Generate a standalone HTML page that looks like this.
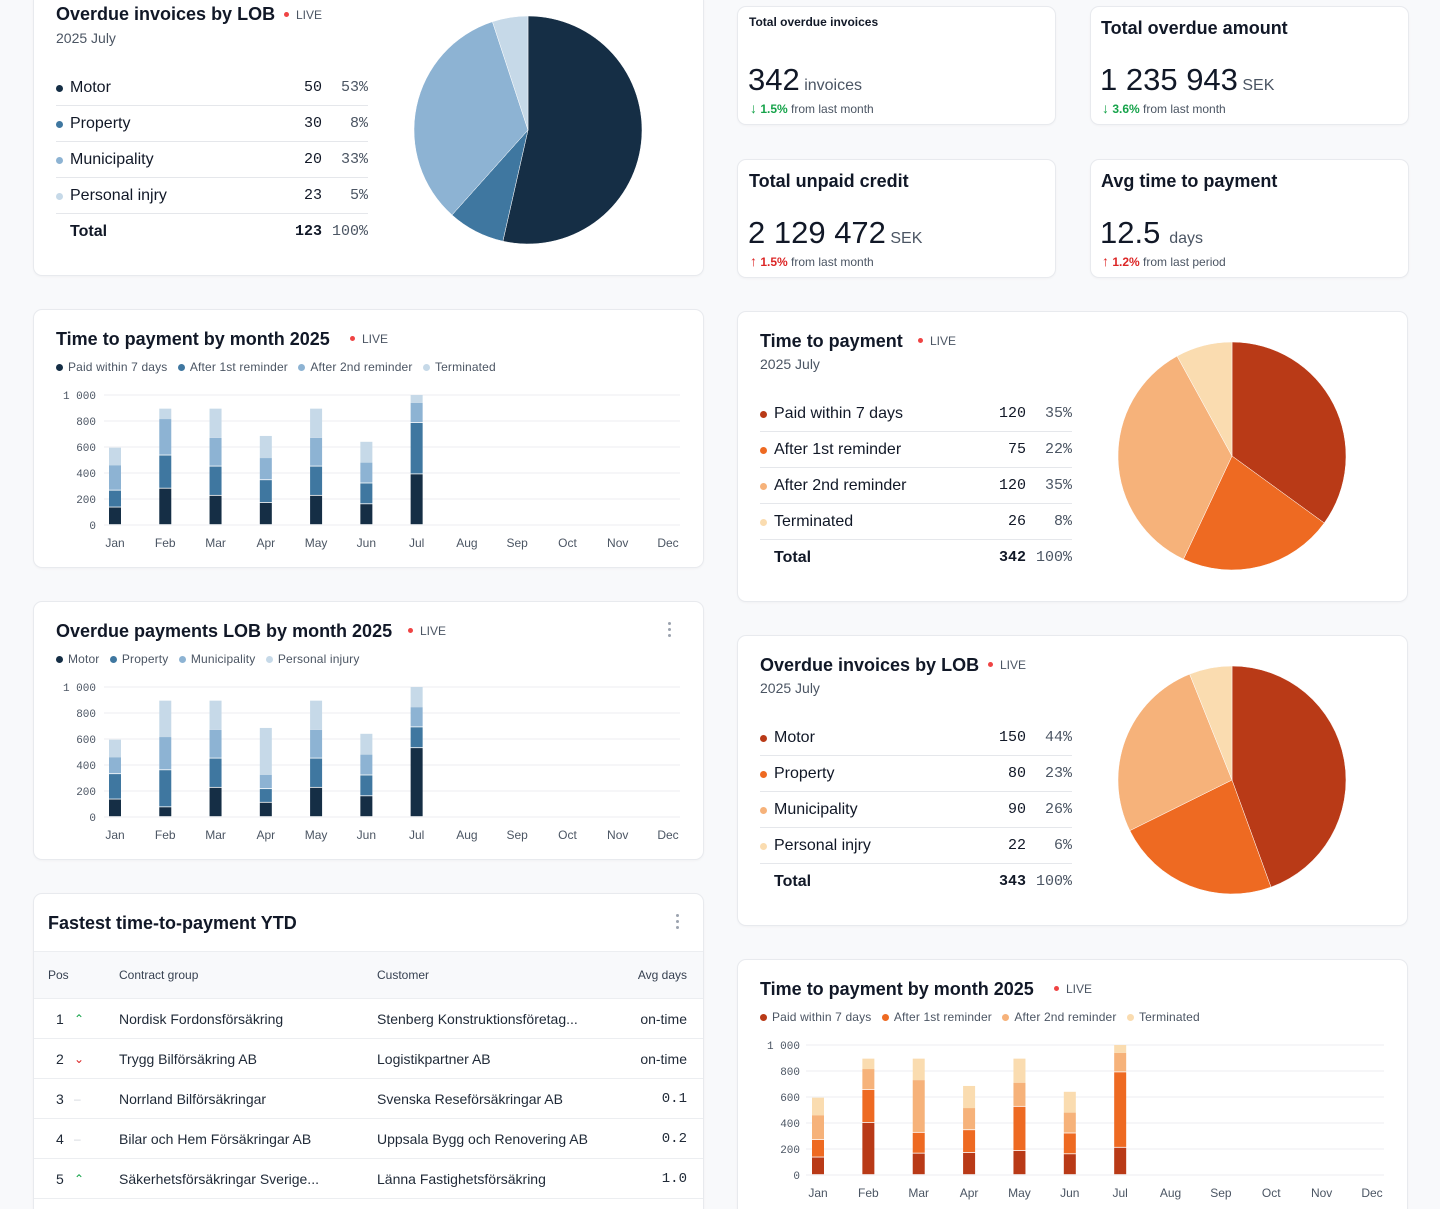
<!DOCTYPE html>
<html><head><meta charset="utf-8">
<style>
*{box-sizing:border-box;margin:0;padding:0}
html{width:1440px;height:1209px;overflow:hidden}
body{width:1440px;height:1209px;overflow:hidden;background:#f8f9fb;font-family:"Liberation Sans",sans-serif;color:#111827;position:relative}
.card{position:absolute;background:#fff;border:1px solid #e8eaee;border-radius:9px;box-shadow:0 1px 2px rgba(0,0,0,0.03)}
.t{position:absolute;white-space:nowrap}
.title{font-size:18px;font-weight:bold;color:#111827}
.sub{font-size:14px;color:#4b5563}
.live{font-size:12px;color:#4b5563}
.live:before{content:"";display:inline-block;width:5px;height:5px;border-radius:50%;background:#ef4444;margin-right:7px;vertical-align:2px}
.leg{font-size:12px;color:#4b5563;letter-spacing:0.15px}
.leg i{display:inline-block;width:7px;height:7px;border-radius:50%;margin-right:5px;vertical-align:0}
.mono{font-family:"Liberation Mono",monospace}
.big{font-size:31px;color:#111827}
.unit{font-size:16px;color:#4b5563}
.chg{font-size:12px;color:#4b5563}
.chg b{font-size:14px}
.kebab{position:absolute;width:4px;height:16px}
.kebab b{display:block;width:3px;height:3px;border-radius:50%;background:#9ca3af;margin-bottom:3px}
#svg{position:absolute;left:0;top:0;pointer-events:none}
</style></head><body>

<div class="card" style="left:33px;top:-10px;width:671px;height:286px"></div>
<div class="t title" style="left:56px;top:4px">Overdue invoices by LOB</div>
<div class="t live" style="left:284px;top:8px">LIVE</div>
<div class="t sub" style="left:56px;top:30px">2025 July</div>

<div class="card" style="left:737px;top:6px;width:319px;height:119px"></div>
<div class="t" style="left:749px;top:15px;font-size:12px;font-weight:bold">Total overdue invoices</div>
<div class="t" style="left:748px;top:62px"><span class="big">342</span> <span class="unit">invoices</span></div>
<div class="t chg" style="left:750px;top:100px"><span style="color:#16a34a;font-weight:bold"><b>↓</b> 1.5%</span> from last month</div>

<div class="card" style="left:1090px;top:6px;width:319px;height:119px"></div>
<div class="t title" style="left:1101px;top:18px">Total overdue amount</div>
<div class="t" style="left:1100px;top:62px"><span class="big">1 235 943</span> <span class="unit">SEK</span></div>
<div class="t chg" style="left:1102px;top:100px"><span style="color:#16a34a;font-weight:bold"><b>↓</b> 3.6%</span> from last month</div>

<div class="card" style="left:737px;top:159px;width:319px;height:119px"></div>
<div class="t title" style="left:749px;top:171px">Total unpaid credit</div>
<div class="t" style="left:748px;top:215px"><span class="big">2 129 472</span> <span class="unit">SEK</span></div>
<div class="t chg" style="left:750px;top:253px"><span style="color:#dc2626;font-weight:bold"><b>↑</b> 1.5%</span> from last month</div>

<div class="card" style="left:1090px;top:159px;width:319px;height:119px"></div>
<div class="t title" style="left:1101px;top:171px">Avg time to payment</div>
<div class="t" style="left:1100px;top:215px"><span class="big">12.5</span>&nbsp; <span class="unit">days</span></div>
<div class="t chg" style="left:1102px;top:253px"><span style="color:#dc2626;font-weight:bold"><b>↑</b> 1.2%</span> from last period</div>

<div class="card" style="left:33px;top:309px;width:671px;height:259px"></div>
<div class="t title" style="left:56px;top:329px">Time to payment by month 2025</div>
<div class="t live" style="left:350px;top:332px">LIVE</div>
<div class="t leg" style="left:56px;top:360px"><span><i style="background:#152e45"></i>Paid within 7 days</span>&nbsp;&nbsp; <span><i style="background:#3f77a0"></i>After 1st reminder</span>&nbsp;&nbsp; <span><i style="background:#8db3d3"></i>After 2nd reminder</span>&nbsp;&nbsp; <span><i style="background:#c6d9e8"></i>Terminated</span></div>

<div class="card" style="left:33px;top:601px;width:671px;height:259px"></div>
<div class="t title" style="left:56px;top:621px">Overdue payments LOB by month 2025</div>
<div class="t live" style="left:408px;top:624px">LIVE</div>
<div class="kebab" style="left:668px;top:622px"><b></b><b></b><b></b></div>
<div class="t leg" style="left:56px;top:652px"><span><i style="background:#152e45"></i>Motor</span>&nbsp;&nbsp; <span><i style="background:#3f77a0"></i>Property</span>&nbsp;&nbsp; <span><i style="background:#8db3d3"></i>Municipality</span>&nbsp;&nbsp; <span><i style="background:#c6d9e8"></i>Personal injury</span></div>

<div class="card" style="left:33px;top:893px;width:671px;height:340px;overflow:hidden">
  <div style="position:absolute;left:0;top:57px;width:100%;height:48px;background:#f8f9fb;border-top:1px solid #eceef1;border-bottom:1px solid #eceef1"></div>
</div>
<div class="t title" style="left:48px;top:913px">Fastest time-to-payment YTD</div>
<div class="kebab" style="left:676px;top:914px"><b></b><b></b><b></b></div>
<div class="t" style="left:48px;top:968px;font-size:12px;color:#374151">Pos</div>
<div class="t" style="left:119px;top:968px;font-size:12px;color:#374151">Contract group</div>
<div class="t" style="left:377px;top:968px;font-size:12px;color:#374151">Customer</div>
<div class="t" style="right:753px;top:968px;font-size:12px;color:#374151">Avg days</div>
<div id="rows"></div>

<div class="card" style="left:737px;top:311px;width:671px;height:291px"></div>
<div class="t title" style="left:760px;top:331px">Time to payment</div>
<div class="t live" style="left:918px;top:334px">LIVE</div>
<div class="t sub" style="left:760px;top:356px">2025 July</div>

<div class="card" style="left:737px;top:635px;width:671px;height:291px"></div>
<div class="t title" style="left:760px;top:655px">Overdue invoices by LOB</div>
<div class="t live" style="left:988px;top:658px">LIVE</div>
<div class="t sub" style="left:760px;top:680px">2025 July</div>

<div class="card" style="left:737px;top:959px;width:671px;height:280px"></div>
<div class="t title" style="left:760px;top:979px">Time to payment by month 2025</div>
<div class="t live" style="left:1054px;top:982px">LIVE</div>
<div class="t leg" style="left:760px;top:1010px"><span><i style="background:#b93a17"></i>Paid within 7 days</span>&nbsp;&nbsp; <span><i style="background:#ee6a22"></i>After 1st reminder</span>&nbsp;&nbsp; <span><i style="background:#f6b27a"></i>After 2nd reminder</span>&nbsp;&nbsp; <span><i style="background:#fadcb0"></i>Terminated</span></div>

<div id="lists"></div>
<svg id="svg" width="1440" height="1209" xmlns="http://www.w3.org/2000/svg"></svg>

<script>
const months=["Jan","Feb","Mar","Apr","May","Jun","Jul","Aug","Sep","Oct","Nov","Dec"];
const yTicks=[0,200,400,600,800,1000];
const yTickLabels=["0","200","400","600","800","1 000"];
// chart B: time to payment by month (blue)
const payPaid=[135,280,225,170,225,160,390];
const payFirst=[130,255,225,175,225,160,395];
const paySecond=[195,280,220,170,220,160,155];
const payTerm=[135,80,225,170,225,160,60];
// chart C: overdue LOB by month
const lobMotor=[135,75,225,110,225,160,530];
const lobProperty=[195,285,225,105,225,160,160];
const lobMunicipality=[130,255,220,110,220,160,155];
const lobPersonal=[135,280,225,360,225,160,155];
// chart G: orange
const oPaid=[135,400,165,170,185,160,210];
const oFirst=[135,255,160,175,340,160,580];
const oSecond=[190,160,405,170,185,160,150];
const oTerm=[135,80,165,170,185,160,60];
// pies / lists
const lobLabels=["Motor","Property","Municipality","Personal injry"];
const lobCounts=[50,30,20,23];
const lobPcts=[53,8,33,5];
const lobTotal=123;
const ttpLabels=["Paid within 7 days","After 1st reminder","After 2nd reminder","Terminated"];
const ttpCounts=[120,75,120,26];
const ttpPcts=[35,22,35,8];
const ttpTotal=342;
const lob2Counts=[150,80,90,22];
const lob2Pcts=[44,23,26,6];
const lob2Total=343;
// table
const tPos=[1,2,3,4,5];
const tTrend=["up","down","flat","flat","up"];
const tGroup=["Nordisk Fordonsförsäkring","Trygg Bilförsäkring AB","Norrland Bilförsäkringar","Bilar och Hem Försäkringar AB","Säkerhetsförsäkringar Sverige..."];
const tCustomer=["Stenberg Konstruktionsföretag...","Logistikpartner AB","Svenska Reseförsäkringar AB","Uppsala Bygg och Renovering AB","Länna Fastighetsförsäkring"];
const tDays=["on-time","on-time","0.1","0.2","1.0"];

const BLUE=["#152e45","#3f77a0","#8db3d3","#c6d9e8"];
const ORANGE=["#b93a17","#ee6a22","#f6b27a","#fadcb0"];
const NS="http://www.w3.org/2000/svg";
const svg=document.getElementById('svg');
function mk(tag,attrs){const e=document.createElementNS(NS,tag);for(const k in attrs)e.setAttribute(k,attrs[k]);svg.appendChild(e);return e;}

function barChart(cfg,series,colors,nameBase){
  const x=i=>cfg.x0+i*(cfg.x1-cfg.x0)/11;
  const y=v=>cfg.y0-v*(cfg.y0-cfg.y1)/1000;
  yTicks.forEach((t,i)=>{
    const g=mk('line',{x1:cfg.gx0,x2:cfg.gx1,y1:y(t),y2:y(t),stroke:'#f0f1f3','stroke-width':1.3});
    
    
    const l=mk('text',{x:cfg.lx,y:y(t)+4,'text-anchor':'end','font-size':11,fill:'#4b5563','font-family':'Liberation Mono, monospace'});
    l.textContent=yTickLabels[i];
    
    
  });
  months.forEach((m,i)=>{
    const l=mk('text',{x:x(i),y:cfg.my,'text-anchor':'middle','font-size':12,fill:'#4b5563','font-family':'Liberation Sans, sans-serif'});
    l.textContent=m;
    
    
  });
  series[0].forEach((_,i)=>{
    let acc=0;
    series.forEach((s,k)=>{
      const top=y(acc+s[i]),bot=y(acc);
      const r=mk('rect',{x:x(i)-6,y:top,width:12,height:Math.max(0,bot-top-(k<3?0.8:0)),fill:colors[k]});
      
      
      acc+=s[i];
    });
  });
}
barChart({x0:115,x1:668,y0:525,y1:395,gx0:104,gx1:680,lx:96,my:547},[payPaid,payFirst,paySecond,payTerm],BLUE,'payment');
barChart({x0:115,x1:668,y0:817,y1:687,gx0:104,gx1:680,lx:96,my:839},[lobMotor,lobProperty,lobMunicipality,lobPersonal],BLUE,'lob');
barChart({x0:818,x1:1372,y0:1175,y1:1045,gx0:806,gx1:1384,lx:800,my:1197},[oPaid,oFirst,oSecond,oTerm],ORANGE,'payment-orange');

function pie(cx,cy,r,pcts,colors,names){
  const tot=pcts.reduce((a,b)=>a+b,0);
  let a0=0;
  pcts.forEach((p,i)=>{
    const a1=a0+p/tot*2*Math.PI;
    const x0=cx+r*Math.sin(a0),y0=cy-r*Math.cos(a0),x1=cx+r*Math.sin(a1),y1=cy-r*Math.cos(a1);
    const big=(a1-a0)>Math.PI?1:0;
    const s=mk('path',{d:`M${cx},${cy}L${x0},${y0}A${r},${r} 0 ${big} 1 ${x1},${y1}Z`,fill:colors[i],stroke:'#fff','stroke-width':0.5});
    
    
    a0=a1;
  });
}
pie(528,130,114,lobPcts,BLUE,lobLabels);
pie(1232,456,114,ttpPcts,ORANGE,ttpLabels);
pie(1232,780,114,lob2Pcts,ORANGE,lobLabels);

const lists=document.getElementById('lists');
function list(left,right,top,labels,counts,pcts,total,colors){
  for(let i=0;i<=labels.length;i++){
    const cy=top+i*36;
    const row=document.createElement('div');
    
    
    row.style.cssText=`position:absolute;left:${left}px;width:${right-left}px;top:${cy-18}px;height:36px;font-size:16px;line-height:36px;color:#111827;${i<labels.length?'border-bottom:1px solid #e5e7eb;':''}`;
    const dot=i<labels.length?`<span style="position:absolute;left:0;top:15px;width:7px;height:7px;border-radius:50%;background:${colors[i]}"></span>`:'';
    const lab=i<labels.length?labels[i]:'Total';
    const c=i<labels.length?counts[i]:total;
    const p=i<labels.length?pcts[i]+'%':'100%';
    const w=i<labels.length?'normal':'bold';
    row.innerHTML=dot+`<span style="position:absolute;left:14px;font-weight:${i<labels.length?'normal':'600'}">${lab}</span><span class="mono" style="position:absolute;right:46px;font-size:15px;font-weight:${w}">${c}</span><span class="mono" style="position:absolute;right:0;font-size:15px;color:#4b5563">${p}</span>`;
    lists.appendChild(row);
  }
}
list(56,368,88,lobLabels,lobCounts,lobPcts,lobTotal,BLUE);
list(760,1072,414,ttpLabels,ttpCounts,ttpPcts,ttpTotal,ORANGE);
list(760,1072,738,lobLabels,lob2Counts,lob2Pcts,lob2Total,ORANGE);

const rows=document.getElementById('rows');
tPos.forEach((p,i)=>{
  const cy=1019+i*40;
  const r=document.createElement('div');
  
  
  r.style.cssText=`position:absolute;left:34px;width:669px;top:${cy-20}px;height:40px;border-bottom:1px solid #eceef1;font-size:14px;line-height:40px;color:#1f2937`;
  const tr=tTrend[i]=='up'?'<span style="color:#16a34a">⌃</span>':tTrend[i]=='down'?'<span style="color:#dc2626">⌄</span>':'<span style="color:#d1d5db">–</span>';
  const mono=/\d/.test(tDays[i]);
  r.innerHTML=`<span style="position:absolute;left:22px">${p}</span><span style="position:absolute;left:40px;font-size:12px">${tr}</span><span style="position:absolute;left:85px">${tGroup[i]}</span><span style="position:absolute;left:343px">${tCustomer[i]}</span><span class="${mono?'mono':''}" style="position:absolute;right:16px">${tDays[i]}</span>`;
  rows.appendChild(r);
});
</script>
</body></html>
